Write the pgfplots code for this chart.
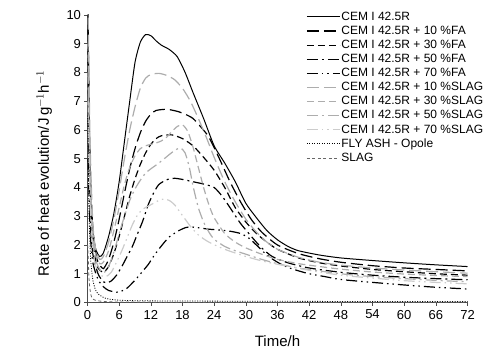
\documentclass[border=0pt]{standalone}
\usepackage{fontspec}
\setmainfont{Liberation Sans}
\usepackage{pgfplots}
\pgfplotsset{compat=1.18}
\definecolor{lg}{gray}{0.68}
\definecolor{llg}{gray}{0.80}
\begin{document}
\begin{tikzpicture}
\begin{axis}[
  scale only axis, width=380pt, height=287.5pt,
  at={(0pt,0pt)}, anchor=south west,
  xmin=0, xmax=72, ymin=0, ymax=10,
  xtick={0,6,...,72}, ytick={0,1,...,10},
  axis lines=left, axis line style={-, black!70, line width=0.6pt},
  tick align=outside, major tick length=3pt,
  tick style={black!70, line width=0.6pt},
  /pgf/number format/assume math mode=true,
  ticklabel style={font=\fontsize{13}{13}\selectfont},
  xticklabel style={yshift=-1pt},
  xlabel={Time/h},
  ylabel={Rate of heat evolution/J\,g$^{-1}$h$^{-1}$},
  xlabel style={font=\fontsize{15}{15}\selectfont, at={(rel axis cs:0.5,0)}, anchor=center, yshift=-39pt},
  ylabel style={font=\fontsize{15}{15}\selectfont, at={(rel axis cs:-0.114,0.45)}, anchor=center, rotate=0},
  clip=true,
  legend cell align=left,
  legend style={draw=none, fill=none, at={(rel axis cs:0.575,1.012)}, anchor=north west,
    font=\fontsize{12}{13}\selectfont, row sep=3.6pt, inner sep=0pt,
    nodes={inner xsep=1pt, inner ysep=0.3pt}},
  legend image code/.code={\draw[#1] (0pt,0pt) -- (33pt,0pt);},
  every axis plot/.append style={smooth, tension=0.4},
]
% CEM I 42.5R
\addplot[black, line width=1pt] coordinates {
(0.08,10.5)(0.4,5.5)(0.9,2.8)(1.5,1.9)(2.3,1.6)(3,1.72)(4,2.3)(5,3.1)(6,4.2)(7,5.6)(8,7.0)(9,8.35)(10,9.05)(11,9.32)(12,9.28)(13,9.1)(14,8.95)(15.5,8.8)(17,8.55)(18.5,8.0)(20,7.3)(22,6.4)(24,5.45)(26,4.85)(28,4.2)(30,3.45)(32,2.95)(34,2.5)(36,2.18)(38,1.95)(40,1.8)(44,1.65)(48,1.55)(54,1.46)(60,1.38)(66,1.31)(72,1.25)};
\addlegendentry{CEM I 42.5R}
% +10 FA
\addplot[black, line width=1.2pt, dash pattern=on 12pt off 5pt] coordinates {
(0.1,9.5)(0.5,4.5)(1,2.6)(1.5,1.8)(2,1.4)(3,1.18)(4,1.5)(5,2.1)(6,2.9)(7,3.8)(8,4.65)(9,5.35)(10,5.9)(11,6.3)(12,6.55)(13,6.68)(15,6.72)(17,6.65)(18.5,6.55)(20,6.4)(21.5,6.1)(23,5.75)(25,5.0)(27,4.2)(29,3.5)(31,2.9)(33,2.45)(36,2.0)(40,1.7)(44,1.52)(48,1.4)(54,1.28)(60,1.2)(66,1.15)(72,1.1)};
\addlegendentry{CEM I 42.5R + 10 \%FA}
% +30 FA
\addplot[black, line width=1.2pt, dash pattern=on 7pt off 4pt] coordinates {
(0.1,8.5)(0.5,4)(1,2.2)(1.5,1.5)(2,1.2)(3,1.05)(4,1.25)(5,1.7)(6,2.3)(7,3.0)(8,3.7)(9,4.3)(10,4.8)(11,5.2)(12,5.5)(13,5.7)(14,5.8)(16,5.83)(18,5.7)(20,5.45)(22,5.05)(24,4.6)(26,4.0)(28,3.3)(30,2.8)(32,2.4)(34,2.1)(36,1.85)(40,1.55)(44,1.38)(48,1.27)(54,1.15)(60,1.07)(66,1.0)(72,0.95)};
\addlegendentry{CEM I 42.5R + 30 \%FA}
% +50 FA
\addplot[black, line width=1.2pt, dash pattern=on 11pt off 4pt on 2pt off 4pt] coordinates {
(0.1,7)(0.5,3)(1,1.7)(2,1.0)(3,0.72)(3.6,0.68)(4.5,0.75)(5.5,0.95)(6.5,1.25)(7.5,1.6)(8.5,1.95)(9.5,2.4)(10.5,2.85)(11.5,3.4)(12.5,3.8)(13.5,4.1)(15,4.27)(16.5,4.32)(18,4.28)(20,4.2)(22,4.12)(24,4.0)(25.5,3.7)(27,3.3)(29,2.75)(31.5,2.2)(33,1.9)(35,1.6)(38,1.38)(42,1.2)(48,1.05)(54,0.95)(60,0.88)(66,0.83)(72,0.79)};
\addlegendentry{CEM I 42.5R + 50 \%FA}
% +70 FA
\addplot[black, line width=1.2pt, dash pattern=on 11pt off 4pt on 1.5pt off 4pt on 1.5pt off 4pt] coordinates {
(0.1,5)(0.5,2.5)(1,1.4)(2,0.8)(3,0.55)(4,0.42)(5.5,0.36)(6.5,0.4)(7.5,0.5)(8.5,0.68)(9.5,0.88)(10.5,1.1)(11.5,1.32)(12.5,1.6)(13.5,1.85)(14.5,2.08)(15.5,2.28)(17,2.47)(18.5,2.6)(19.5,2.63)(21,2.6)(23,2.55)(25,2.52)(27,2.48)(29,2.4)(30.5,2.25)(32,2.0)(34,1.65)(36,1.4)(38,1.22)(40,1.1)(42,1.0)(45,0.9)(48,0.8)(54,0.7)(60,0.61)(66,0.53)(72,0.47)};
\addlegendentry{CEM I 42.5R + 70 \%FA}
% +10 SLAG
\addplot[lg, line width=1.2pt, dash pattern=on 12pt off 5pt] coordinates {
(0.1,10.5)(0.5,5.5)(1,2.8)(1.5,1.9)(2.3,1.5)(3,1.6)(4,2.1)(5,2.9)(6,3.9)(7,5.0)(8,6.0)(9,6.8)(10,7.45)(11,7.8)(12,7.93)(13.5,7.97)(15,7.9)(16.5,7.75)(18,7.45)(19.5,7.0)(21,6.4)(22.5,5.75)(24,5.05)(26,4.2)(28,3.5)(30,2.9)(32,2.45)(34,2.1)(36,1.85)(40,1.57)(44,1.4)(48,1.3)(54,1.2)(60,1.13)(66,1.07)(72,1.02)};
\addlegendentry{CEM I 42.5R + 10 \%SLAG}
% +30 SLAG
\addplot[lg, line width=1.2pt, dash pattern=on 7pt off 4pt] coordinates {
(0.1,9)(0.5,4.5)(1,2.5)(1.5,1.7)(2.3,1.35)(3,1.4)(4,1.8)(5,2.5)(6,3.3)(7,4.1)(8,4.7)(9,5.1)(10,5.35)(11,5.45)(12,5.5)(13,5.55)(14,5.62)(15,5.75)(16,5.95)(17,6.12)(18,6.18)(19,5.95)(20,5.4)(21,4.7)(22,4.0)(23,3.4)(24,2.95)(26,2.4)(28,2.1)(30,1.9)(33,1.68)(36,1.5)(40,1.35)(44,1.25)(48,1.16)(54,1.06)(60,0.99)(66,0.94)(72,0.9)};
\addlegendentry{CEM I 42.5R + 30 \%SLAG}
% +50 SLAG
\addplot[lg, line width=1.2pt, dash pattern=on 11pt off 4pt on 2pt off 4pt] coordinates {
(0.1,8)(0.5,4)(1,2.2)(1.5,1.5)(2.5,1.1)(3.2,1.05)(4,1.25)(5,1.75)(6,2.4)(7,3.0)(8,3.55)(9,3.95)(10,4.25)(11,4.5)(12,4.65)(13,4.78)(14,4.92)(15,5.07)(16,5.22)(17,5.34)(17.7,5.37)(18.5,5.2)(19.3,4.7)(20,4.05)(21,3.3)(22,2.8)(23,2.45)(24,2.2)(26,1.95)(28,1.8)(30,1.68)(33,1.5)(36,1.35)(40,1.2)(48,1.0)(54,0.9)(60,0.83)(66,0.77)(72,0.72)};
\addlegendentry{CEM I 42.5R + 50 \%SLAG}
% +70 SLAG
\addplot[llg, line width=1.2pt, dash pattern=on 11pt off 4pt on 1.5pt off 4pt on 1.5pt off 4pt] coordinates {
(0.1,7)(0.5,3.5)(1,1.9)(1.5,1.3)(2.5,0.95)(3.5,0.9)(4.5,1.05)(5.5,1.4)(6.5,1.8)(7.5,2.25)(8.5,2.7)(9.5,3.05)(10.5,3.25)(11.5,3.35)(12.5,3.45)(13.5,3.55)(14.5,3.6)(15.5,3.55)(16.5,3.4)(17.5,3.15)(18.5,2.9)(19.5,2.65)(21,2.35)(23,2.1)(26,1.85)(30,1.6)(33,1.45)(36,1.33)(42,1.12)(48,0.95)(54,0.85)(60,0.76)(66,0.7)(72,0.65)};
\addlegendentry{CEM I 42.5R + 70 \%SLAG}
% FLY ASH
\addplot[black, line width=0.8pt, dash pattern=on 1pt off 1.5pt] coordinates {
(0.05,6.5)(0.3,3)(0.6,1.5)(1,0.8)(1.5,0.45)(2,0.3)(3,0.18)(4,0.12)(6,0.08)(10,0.06)(20,0.05)(40,0.04)(72,0.03)};
\addlegendentry{FLY ASH - Opole}
% SLAG
\addplot[black!60, line width=0.8pt, dash pattern=on 3pt off 2.5pt] coordinates {
(0.05,2)(0.3,0.8)(0.6,0.3)(1,0.12)(2,0.06)(5,0.02)(20,0.01)(72,0.01)};
\addlegendentry{SLAG}
\node[font=\fontsize{14}{14}\selectfont\bfseries] at (rel axis cs:-0.143,1) {(b)};
\end{axis}
\pgfresetboundingbox
\path (-87.5pt,-56.5pt) rectangle (406.5pt,302.5pt);
\end{tikzpicture}
\end{document}
